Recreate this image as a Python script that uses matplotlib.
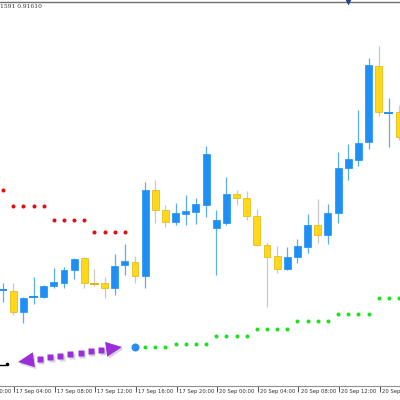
import numpy as np
import matplotlib
matplotlib.use("Agg")
import matplotlib.pyplot as plt
from matplotlib.patches import Polygon, Rectangle
from matplotlib.transforms import blended_transform_factory

# ── data (price in chart points, one candle per hour) ─────────────────────────
opens  = [109, 109, 88, 102, 103, 114, 117, 130, 142, 117, 117, 112, 135, 138,
          124, 210, 190, 178, 186, 188, 195, 172, 177, 206, 202, 184, 155, 144,
          131, 143, 153, 175, 165, 187, 232, 240, 258, 334, 286, 288]
highs  = [117, 117, 103, 123, 115, 132, 133, 142, 143, 131, 123, 146, 156, 144,
          218, 220, 195, 197, 205, 202, 254, 190, 223, 210, 209, 191, 158, 154,
          153, 161, 186, 201, 196, 248, 256, 290, 342, 354, 302, 295]
lows   = [98, 85, 77, 96, 102, 112, 112, 121, 112, 114, 102, 105, 125, 117,
          112, 177, 173, 175, 175, 176, 183, 125, 175, 195, 180, 154, 93, 127,
          130, 137, 147, 157, 156, 177, 220, 234, 251, 284, 253, 260]
closes = [111, 88, 102, 104, 114, 118, 130, 141, 117, 116, 112, 134, 139, 124,
          210, 190, 178, 187, 189, 196, 246, 180, 206, 202, 184, 155, 143, 131,
          143, 154, 175, 165, 187, 232, 241, 257, 335, 288, 288, 263]

# resistance dots (red), candles 0..12
res_idx = list(range(0, 13))
res_val = [210, 194, 194, 194, 194, 180, 180, 180, 180, 168, 168, 168, 168]

# support dots (green), candles 14..39 ; start point (blue) at candle 13
sup_start_idx, sup_start_val = 13, 53
sup_idx = list(range(14, 40))
sup_val = [53, 53, 53, 56, 56, 56, 56, 64, 64, 64, 64, 71, 71, 71, 71,
           79, 79, 79, 79, 86, 86, 86, 86, 102, 102, 102]

# signal arrow at the top
sig_idx = 34

tick_idx = [-3, 1, 5, 9, 13, 17, 21, 25, 29, 33, 37]
tick_lbl = ["17 Sep 00:00", "17 Sep 04:00", "17 Sep 08:00", "17 Sep 12:00",
            "17 Sep 16:00", "17 Sep 20:00", "20 Sep 00:00", "20 Sep 04:00",
            "20 Sep 08:00", "20 Sep 12:00", "20 Sep 16:00"]

BULL = "#1e90f5"
BULL_WICK = "#5aaeea"
BEAR = "#ffd81a"
BEAR_EDGE = "#e3b40a"
BEAR_WICK = "#c8c8c8"

fig = plt.figure(figsize=(4, 4), dpi=100)
ax = fig.add_axes([0, 14 / 400, 1, 384 / 400])

# ── candles ──────────────────────────────────────────────────────────────────
w = 0.68
for i, (o, h, l, c) in enumerate(zip(opens, highs, lows, closes)):
    bull = c >= o
    ax.plot([i, i], [l, h], color=BULL_WICK if bull else BEAR_WICK,
            lw=0.9, zorder=2, solid_capstyle="butt")
    lo, hi = min(o, c), max(o, c)
    if hi - lo <= 2:
        ax.plot([i - w / 2, i + w / 2], [(o + c) / 2] * 2,
                color=BULL if bull else BEAR_EDGE, lw=1.4, zorder=3)
    else:
        ax.add_patch(Rectangle((i - w / 2, lo), w, hi - lo,
                               facecolor=BULL if bull else BEAR,
                               edgecolor=BULL if bull else BEAR_EDGE,
                               lw=0.5, zorder=3))

# ── support / resistance dots ────────────────────────────────────────────────
ax.plot(res_idx, res_val, ls="none", marker="o", ms=2.9, color="#e01010",
        mec="none", zorder=4)
ax.plot(sup_idx, sup_val, ls="none", marker="o", ms=2.9, color="#1fe01f",
        mec="none", zorder=4)
ax.plot([sup_start_idx], [sup_start_val], ls="none", marker="o", ms=5.8,
        color="#2a8cf0", mec="none", zorder=5)
ax.plot([sig_idx], [398], ls="none", marker="v", ms=4.5, color="#1f3f94",
        mec="none", zorder=6, clip_on=False)

# ── axes styling ─────────────────────────────────────────────────────────────
for s in ["left", "right"]:
    ax.spines[s].set_visible(False)
ax.spines["top"].set_color("#707070")
ax.spines["bottom"].set_color("#909090")
ax.spines["top"].set_linewidth(1.0)
ax.spines["bottom"].set_linewidth(0.8)
ax.set_yticks([])
ax.set_xticks([t + 0.1 for t in tick_idx])
ax.set_xticklabels([])
ax.tick_params(axis="x", direction="out", length=4.5, width=0.7,
               color="#505050")
# limits after the ticks, otherwise the off-screen tick widens the view
ax.set_xlim(-0.3, 39.1)
ax.set_ylim(14, 398)

tr = blended_transform_factory(ax.transData, fig.transFigure)
for t, lab in zip(tick_idx, tick_lbl):
    ax.text(t + 0.3, 8 / 400, lab, transform=tr, ha="left", va="center",
            fontsize=3.8, color="#303030", clip_on=False)

# ── overlay in pixel coordinates: header text and purple arrow ──────────────
ov = fig.add_axes([0, 0, 1, 1], zorder=10)
ov.set_xlim(0, 400)
ov.set_ylim(400, 0)
ov.axis("off")
ov.patch.set_alpha(0)

ov.text(0, 7, "1591 0.91610", fontsize=4.3, color="#303030",
        ha="left", va="center", family="DejaVu Serif")

# small black glyph at the left
ov.plot([0, 4.5], [365, 365], color="black", lw=1.0)
ov.plot([6.5], [363.5], marker="o", ms=2.6, color="black", mec="none")

PURPLE = "#9a2ed8"
tipL = np.array([18.0, 362.0])
tipR = np.array([122.0, 347.0])
d = (tipR - tipL) / np.linalg.norm(tipR - tipL)
n = np.array([-d[1], d[0]])


def draw_arrow(offset, color, z, alpha=1.0):
    off = np.array(offset)
    pts = [tipL + d * t for t in np.linspace(22, 84, 7)]
    xs = [p[0] + off[0] for p in pts]
    ys = [p[1] + off[1] for p in pts]
    ov.plot(xs, ys, ls="none", marker="s", ms=3.7, color=color,
            mec="none", zorder=z, alpha=alpha)
    for tip, sgn in [(tipL, 1), (tipR, -1)]:
        base = tip + sgn * d * 16
        tri = [tip + off, base + n * 7.5 + off, base - n * 7.5 + off]
        ov.add_patch(Polygon(tri, closed=True, facecolor=color,
                             edgecolor="none", zorder=z, alpha=alpha))


draw_arrow((1.5, 2.0), "#b9b9c4", 1, alpha=0.6)
draw_arrow((0, 0), PURPLE, 2)

fig.savefig("out.png", dpi=100)
